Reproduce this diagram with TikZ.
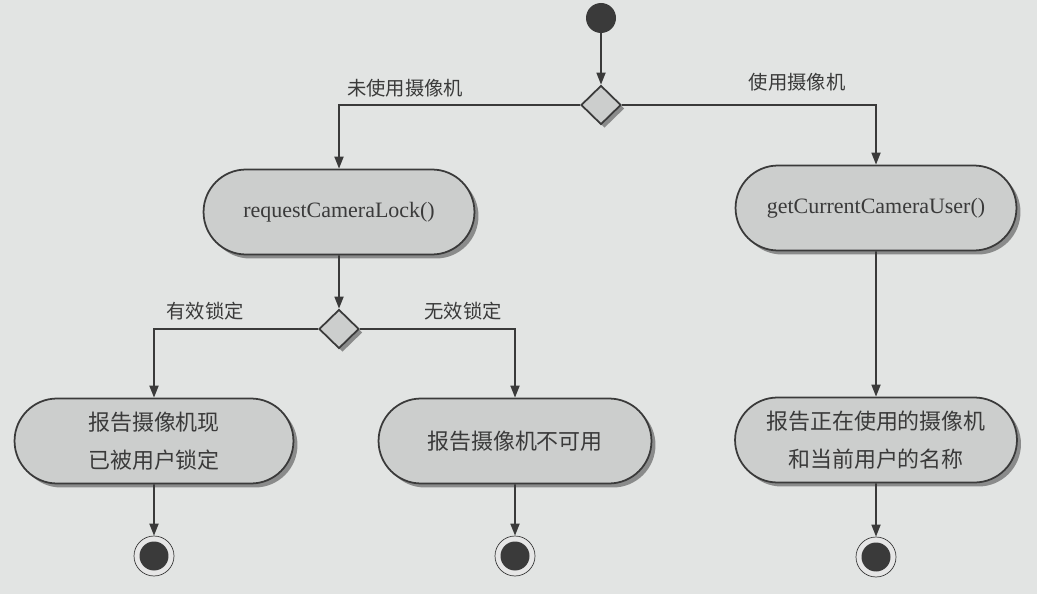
\documentclass[tikz,border=0pt]{standalone}
\usepackage{fontspec}
\setmainfont{Liberation Serif}
\newfontfamily\cjk{Noto Sans CJK SC}
\usepackage{tikz}
\usetikzlibrary{arrows.meta,shapes.geometric,shapes.misc,shadows,positioning}
\definecolor{paper}{RGB}{226,228,227}
\definecolor{ink}{RGB}{58,58,58}
\definecolor{actfill}{RGB}{204,206,205}

\begin{document}
\begin{tikzpicture}[x=0.02cm, y=-0.02cm, >={Triangle[length=0.24cm,width=0.18cm]},
  flow/.style={->, line width=1pt, draw=ink},
  act/.style={rounded rectangle, draw=ink, line width=1pt, fill=actfill, text=ink,
    inner sep=2pt, minimum height=1.7cm, align=center,
    font=\fontsize{12.5}{21.5}\selectfont,
    drop shadow={shadow xshift=0.08cm, shadow yshift=-0.08cm, fill=black!60, opacity=0.7}},
  choice/.style={diamond, draw=ink, line width=1pt, fill=actfill, inner sep=0pt,
    minimum width=0.8cm, minimum height=0.78cm,
    drop shadow={shadow xshift=0.07cm, shadow yshift=-0.07cm, fill=black!60, opacity=0.7}},
  guard/.style={text=ink, font=\cjk\fontsize{11}{13}\selectfont},
  initial/.style={circle, fill=ink, minimum size=0.6cm, inner sep=0pt},
  final/.style={circle, draw=ink, fill=actfill!50, minimum size=0.8cm, inner sep=0pt,
    path picture={\fill[ink] (path picture bounding box.center) circle (0.29cm);}}]
  \useasboundingbox (0,0) rectangle (1037,594);
  \fill[paper] (0,0) rectangle (1037,594);
  % Start and first choice
  \node[initial] (start) at (601,18) {};
  \node[choice] (d1) at (601,105) {};
  % Activities
  \node[act, minimum width=5.56cm] (lock) at (339,212) {requestCameraLock()};
  \node[act, minimum width=5.76cm] (user) at (876,208) {getCurrentCameraUser()};
  \node[choice] (d2) at (339,329) {};
  \node[act, minimum width=5.72cm] (rep1) at (154,441) {\cjk 报告摄像机现\\\cjk 已被用户锁定};
  \node[act, minimum width=5.6cm] (rep2) at (515,441) {\cjk 报告摄像机不可用};
  \node[act, minimum width=5.78cm] (rep3) at (876,440) {\cjk 报告正在使用的摄像机\\\cjk 和当前用户的名称};
  % End points
  \node[final] (end1) at (154,556) {};
  \node[final] (end2) at (515,556) {};
  \node[final] (end3) at (876,557) {};
  % Guards
  \node[guard] (gfree) at (405,88) {未使用摄像机};
  \node[guard] (gused) at (797,82) {使用摄像机};
  \node[guard] (gok) at (205,311) {有效锁定};
  \node[guard] (gbad) at (463,311) {无效锁定};
  % Flows
  \draw[flow] (start) -- (d1);
  \draw[flow] (d1.west) -| (lock.north);
  \draw[flow] (d1.east) -| (user.north);
  \draw[flow] (lock) -- (d2);
  \draw[flow] (d2.west) -| (rep1.north);
  \draw[flow] (d2.east) -| (rep2.north);
  \draw[flow] (user) -- (rep3);
  \draw[flow] (rep1) -- (end1);
  \draw[flow] (rep2) -- (end2);
  \draw[flow] (rep3) -- (end3);
\end{tikzpicture}
\end{document}
